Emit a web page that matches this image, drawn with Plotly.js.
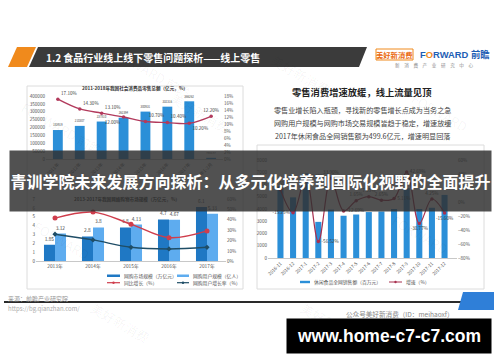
<!DOCTYPE html>
<html><head><meta charset="utf-8">
<script src="https://cdn.plot.ly/plotly-3.0.1.min.js"></script>
<style>html,body{margin:0;padding:0;background:#fff}#c{width:500px;height:362px}</style>
</head><body><div id="c"></div>
<script>
// ---------- DATA ----------
const topCats = ['2011年','2012年','2013年','2014年','2015年','2016年','2017年','2018年1-2月'];
const topSales = [183919, 210307, 237810, 262394, 300931, 332316, 366262, 7564.67];
const topGrowth = [17.10, 14.30, 13.10, 12.00, 10.70, 10.40, 10.20, 12.20];
const topTitle = '2011-2018年我国社会消费品零售总额（亿元，%）';

const midCats = ['2013年','2014年','2015年','2016年','2017年'];
const marketSize = [1.85, 2.8, 3.8, 4.7, 6.1];
const userSize = [3.12, 3.8, 4.13, 4.67, 5.33];
const marketGrowth = [41.6, 47.4, 35.8, 22.8, 29.3];
const userGrowth = [26.1, 20.6, 13.5, 11.9, 13.5];
const midNames = ['网购市场规模（万亿元）','网购用户规模（亿人）','同比增长（%）','网购用户增长率（%）'];
const midTitle = '2013-2017年我国网络购物市场规模（万亿元，%）';

const monthCats = ['2016-11','2016-12','2017-1','2017-2','2017-3','2017-4','2017-5','2017-6','2017-7','2017-8','2017-9','2017-10','2017-11','2017-12'];
const snackSales = [5850, 4950, 6900, 2950, 3950, 3450, 3550, 3750, 3800, 4000, 5700, 4000, 4100, 5150];
const snackGrowth = [17.5, -15.25, 36.05, -56.52, 33.9, -12.69, 1.65, 7.65, 2.65, 5.11, 42.69, -30.77, 4.25, -15.60];
const rightNames = ['休闲食品全网销售额（百万元）','增速（%）'];

const headerText = '1.2 食品行业线上线下零售问题探析——线上零售';
const sideTitle = '零售消费增速放缓，线上流量见顶';
const sideLines = ['零售业增长陷入瓶颈，寻找新的零售增长点成为当务之急',
                   '网购用户规模与网购市场交易规模皆趋于稳定，增速放缓',
                   '2017年休闲食品全网销售额为499.6亿元，增速明显回落'];
const bannerText = '青训学院未来发展方向探析：从多元化培养到国际化视野的全面提升';
const urlText = 'www.home-c7-c7.com';

// ---------- helpers ----------
const W = 500, H = 362;
const px = x => x / W;
const py = y => 1 - y / H;
const CJK = 'Noto Sans CJK SC, Noto Sans, sans-serif';
const pct = v => v.toFixed(2) + '%';
const tickF = {size: 4.6, color: '#555', family: CJK};

// ---------- TRACES ----------
const traces = [
  {type:'bar', x: topCats, y: topSales, xaxis:'x', yaxis:'y', width:0.45,
   marker:{color:'#2b8fd8'}, text: topSales.map(String), textposition:'outside',
   textfont:{size:4.6, color:'#444'}, cliponaxis:false, showlegend:false},
  {type:'scatter', mode:'lines+markers+text', x: topCats, y: topGrowth, xaxis:'x', yaxis:'y2',
   line:{color:'#b23a5c', width:1.4, shape:'spline'}, marker:{size:3.5, color:'#b23a5c'},
   text: topGrowth.map(pct),
   textposition:['top right','top right','top right','bottom left','top right','top right','bottom right','top center'],
   textfont:{size:4.6, color:'#444'}, cliponaxis:false, showlegend:false},
  {type:'bar', x: midCats, y: marketSize, xaxis:'x2', yaxis:'y3', width:0.29, offset:-0.29,
   marker:{color:'#1f78c4'}, text: marketSize.map(String), textposition:'outside',
   textfont:{size:4.8, color:'#444'}, cliponaxis:false, showlegend:false},
  {type:'bar', x: midCats, y: userSize, xaxis:'x2', yaxis:'y3', width:0.29, offset:0,
   marker:{color:'#5eacef'}, text: userSize.map(String), textposition:'outside',
   textfont:{size:4.8, color:'#444'}, cliponaxis:false, showlegend:false},
  {type:'scatter', mode:'lines+markers', x: midCats, y: marketGrowth, xaxis:'x2', yaxis:'y4',
   line:{color:'#cf3d4c', width:1.4, shape:'spline'}, marker:{size:5, color:'#cf3d4c'}, showlegend:false},
  {type:'scatter', mode:'lines+markers', x: midCats, y: userGrowth, xaxis:'x2', yaxis:'y4',
   line:{color:'#1f4d66', width:1.4, shape:'spline'}, marker:{size:4, color:'#1f4d66', symbol:'diamond'}, showlegend:false},
  {type:'bar', x: monthCats, y: snackSales, xaxis:'x3', yaxis:'y5', width:0.48,
   marker:{color:'#2b8fd8'}, showlegend:false},
  {type:'scatter', mode:'lines+markers+text', x: monthCats, y: snackGrowth, xaxis:'x3', yaxis:'y6',
   line:{color:'#a8304f', width:1.2, shape:'spline'}, marker:{size:3.5, color:'#a8304f'},
   text: snackGrowth.map(pct),
   textposition:['top center','middle left','middle right','middle right','top center','middle right','top center','top center','top center','middle right','middle right','bottom center','top center','bottom center'],
   textfont:{size:4.6, color:'#444'}, cliponaxis:false, showlegend:false}
];

// ---------- AXES ----------
const baseX = {type:'category', showgrid:false, zeroline:false, showline:true, linecolor:'#c8c8c8', linewidth:1,
               ticks:'', tickfont: tickF, fixedrange:true, automargin:false};
const baseY = {showgrid:false, zeroline:false, showline:false, ticks:'', tickfont: tickF, fixedrange:true, automargin:false};

const layout = {
  width: W, height: H, margin:{l:0,r:0,t:0,b:0},
  paper_bgcolor:'#fff', plot_bgcolor:'rgba(0,0,0,0)',
  barmode:'overlay', showlegend:false,
  font:{family: CJK},
  xaxis: Object.assign({}, baseX, {domain:[px(46), px(223)], anchor:'y', tickangle:-45}),
  yaxis: Object.assign({}, baseY, {domain:[py(159), py(96)], range:[0,400000], dtick:50000, tickformat:'d', anchor:'x'}),
  yaxis2: Object.assign({}, baseY, {overlaying:'y', side:'right', anchor:'x', range:[0,18], dtick:2, ticksuffix:'%'}),
  xaxis2: Object.assign({}, baseX, {domain:[px(36), px(226)], anchor:'y3', tickfont:{size:4.8,color:'#555',family:CJK}}),
  yaxis3: Object.assign({}, baseY, {domain:[py(261.3), py(199)], range:[0,7], dtick:1, anchor:'x2'}),
  yaxis4: Object.assign({}, baseY, {overlaying:'y3', side:'right', anchor:'x2', range:[0,60], dtick:10, ticksuffix:'%'}),
  xaxis3: Object.assign({}, baseX, {domain:[px(268), px(457)], anchor:'y5', tickangle:-45}),
  yaxis5: Object.assign({}, baseY, {domain:[py(258), py(160)], range:[0,8000], dtick:1000, anchor:'x3'}),
  yaxis6: Object.assign({}, baseY, {overlaying:'y5', side:'right', anchor:'x3', range:[-80,60], dtick:20, ticksuffix:'%'}),
  shapes: [], annotations: []
};

// ---------- SHAPES ----------
const path = pts => 'M ' + pts.map(p => px(p[0]) + ',' + py(p[1])).join(' L ') + ' Z';
const S = layout.shapes;
S.push({type:'path', xref:'paper', yref:'paper', path: path([[8,67],[17,47],[36,47],[27,67]]), fillcolor:'#f08a1c', line:{width:0}});
S.push({type:'path', xref:'paper', yref:'paper', path: path([[29,67],[38,47],[367,47],[359,67]]), fillcolor:'#3b3b3b', line:{width:0}});
S.push({type:'rect', xref:'paper', yref:'paper', x0:px(27), x1:px(243), y0:py(289), y1:py(86), line:{color:'#dcdcdc', width:1}, layer:'below'});
S.push({type:'rect', xref:'paper', yref:'paper', x0:px(257), x1:px(484), y0:py(289), y1:py(145), line:{color:'#dcdcdc', width:1}, layer:'below'});
S.push({type:'rect', xref:'paper', yref:'paper', x0:px(376), x1:px(413), y0:py(60), y1:py(49), line:{color:'#f08a1c', width:1}, fillcolor:'#fff'});
S.push({type:'line', xref:'paper', yref:'paper', x0:px(4), x1:px(462), y0:py(302), y1:py(302), line:{color:'#2a2a2a', width:2}});
S.push({type:'path', xref:'paper', yref:'paper', path: path([[458,310],[463,292],[494,292],[494,310]]), fillcolor:'#2f7fd8', line:{width:0}});
S.push({type:'rect', xref:'paper', yref:'paper', x0:px(107), x1:px(120), y0:py(277), y1:py(274.5), fillcolor:'#1f78c4', line:{width:0}});
S.push({type:'rect', xref:'paper', yref:'paper', x0:px(177), x1:px(189), y0:py(277), y1:py(274.5), fillcolor:'#5eacef', line:{width:0}});
S.push({type:'line', xref:'paper', yref:'paper', x0:px(107), x1:px(120), y0:py(282.7), y1:py(282.7), line:{color:'#cf3d4c', width:1.2}});
S.push({type:'circle', xref:'paper', yref:'paper', x0:px(112.3), x1:px(114.7), y0:py(284), y1:py(281.5), fillcolor:'#cf3d4c', line:{width:0}});
S.push({type:'line', xref:'paper', yref:'paper', x0:px(177), x1:px(189), y0:py(282.7), y1:py(282.7), line:{color:'#1f4d66', width:1.2}});
S.push({type:'circle', xref:'paper', yref:'paper', x0:px(181.8), x1:px(184.2), y0:py(284), y1:py(281.5), fillcolor:'#1f4d66', line:{width:0}});
S.push({type:'rect', xref:'paper', yref:'paper', x0:px(300), x1:px(310), y0:py(283.2), y1:py(280.8), fillcolor:'#2b8fd8', line:{width:0}});
S.push({type:'line', xref:'paper', yref:'paper', x0:px(389), x1:px(402), y0:py(282), y1:py(282), line:{color:'#a8304f', width:1}});
S.push({type:'circle', xref:'paper', yref:'paper', x0:px(394.3), x1:px(396.7), y0:py(283.2), y1:py(280.8), fillcolor:'#a8304f', line:{width:0}});

// ---------- ANNOTATIONS ----------
const A = layout.annotations;
function ann(x, y, text, font, extra) {
  A.push(Object.assign({xref:'paper', yref:'paper', x:px(x), y:py(y), text:text, showarrow:false,
    xanchor:'left', yanchor:'middle', font:Object.assign({family:CJK, size:6, color:'#444'}, font)}, extra || {}));
}
const wm = [[62,128,'FORWARD 前瞻'],[150,72,'FORWARD 前瞻'],[300,75,'美好新消费'],[440,112,'FORWARD'],[62,240,'FORWARD'],[120,322,'美好新消费'],[330,322,'美好新消费'],[420,235,'FORWARD'],[200,112,'美好新消费'],[455,330,'美好新消费']];
wm.forEach(w => ann(w[0], w[1], w[2], {size:13, color:'rgba(0,0,0,0.045)'}, {xanchor:'center', textangle:30}));

ann(44, 57.5, '<b>' + headerText + '</b>', {size:10, color:'#fff'});
ann(394.5, 54.5, '<b>美好新消费</b>', {size:7.3, color:'#ea6a10'}, {xanchor:'center'});
ann(455, 54.5, '<b>F<span style="color:#f08a1c">O</span>RWARD 前瞻</b>', {size:9.4, color:'#1e5eb4', family:'Liberation Sans, '+CJK}, {xanchor:'center'});
ann(434, 66, '新　消　费　产　业　研　究　中　心', {size:4.6, color:'#888'}, {xanchor:'center'});

ann(362, 92, '<b>' + sideTitle + '</b>', {size:9.3, color:'#222'}, {xanchor:'center'});
sideLines.forEach((t, i) => ann(362, 110 + i * 13, t, {size:7.1, color:'#444'}, {xanchor:'center'}));

ann(135, 88, '<b>' + topTitle + '</b>', {size:4.6, color:'#333'}, {xanchor:'center'});
ann(127, 199, '<b>' + midTitle + '</b>', {size:4.6, color:'#333'}, {xanchor:'center'});

ann(122, 275.7, midNames[0], {size:4.8, color:'#555'});
ann(191, 275.7, midNames[1], {size:4.8, color:'#555'});
ann(122, 282.7, midNames[2], {size:4.8, color:'#555'});
ann(191, 282.7, midNames[3], {size:4.8, color:'#555'});
ann(312, 282, rightNames[0], {size:4.8, color:'#555'});
ann(404, 282, rightNames[1], {size:4.8, color:'#555'});

ann(6, 298, '来源：前瞻产业研究院', {size:6, color:'#999'});
ann(6, 308, 'https://bg.qianzhan.com/', {size:6, color:'#aaa'});
ann(456, 314, '公众号美好新消费（ID：meihaoxf）', {size:6.6, color:'#888'}, {xanchor:'right'});

A.push({xref:'paper', yref:'paper', x:px(389), y:py(336), xanchor:'center', yanchor:'middle', showarrow:false,
  width:204, height:34, bgcolor:'#000', borderpad:0, align:'center', valign:'middle',
  text:'<b>' + urlText + '</b>', font:{family:'Liberation Sans, sans-serif', size:17.5, color:'#fff'}});
A.push({xref:'paper', yref:'paper', x:px(250.5), y:py(181), xanchor:'center', yanchor:'middle', showarrow:false,
  width:481, height:60, bgcolor:'rgba(48,48,48,0.84)', borderpad:0, align:'center', valign:'middle',
  text:'<b>' + bannerText + '</b>', font:{family:CJK, size:16, color:'#fff'}});

Plotly.newPlot('c', traces, layout, {staticPlot:true, displayModeBar:false});
</script>
</body></html>
